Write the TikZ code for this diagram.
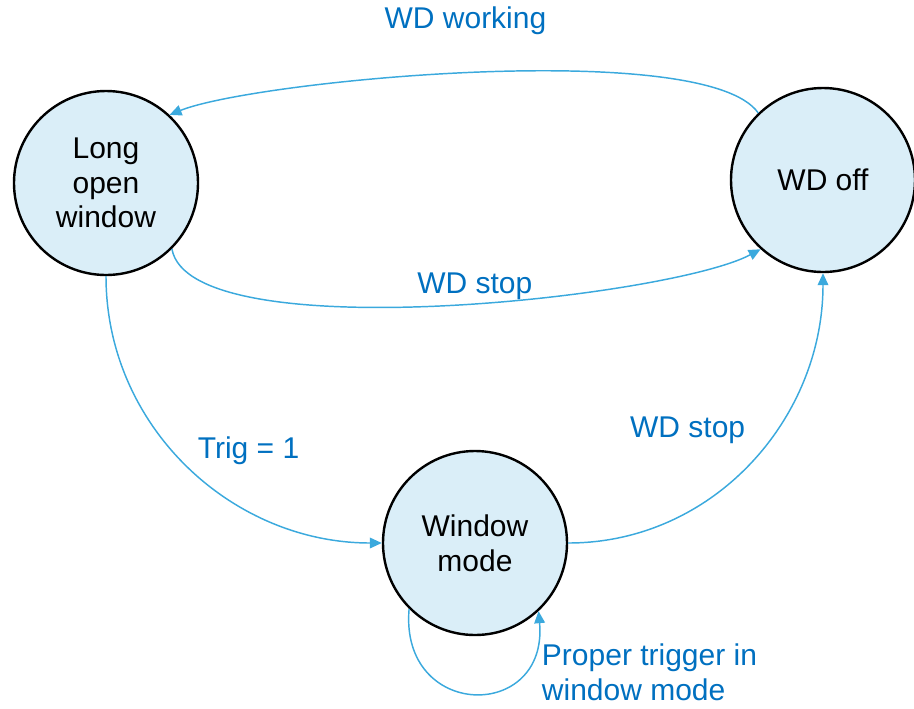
\documentclass[tikz,border=0pt]{standalone}
\usepackage{fontspec}
\setmainfont{Liberation Sans}
\usetikzlibrary{automata, positioning, arrows.meta}
\definecolor{statefill}{HTML}{DAEEF8}
\definecolor{edgeblue}{HTML}{3BA9DD}
\definecolor{labelblue}{HTML}{0070C0}

\begin{document}
\begin{tikzpicture}[
    x=0.75pt, y=0.75pt,
    every state/.style={line width=1.8pt, minimum size=138pt, inner sep=0pt, fill=statefill, draw=black, align=center, font=\fontsize{22.5}{26}\selectfont},
    every edge/.append style={line width=1.1pt, draw=edgeblue, >={Triangle[length=9pt, width=8pt]}},
    lbl/.style={text=labelblue, inner sep=2pt, font=\fontsize{22.5}{26}\selectfont}
]
   \useasboundingbox (0,0) rectangle (914,-708);

   % States
   \node[state] (low)  at (106,-183) {Long\\open\\window};
   \node[state] (woff) at (823,-180) {WD off};
   \node[state] (wm)   at (475,-543) {Window\\mode};

   % Transitions
   \path[->]
   (woff.134) edge[out=125, in=22, looseness=0.4] node[lbl, above=26pt, xshift=-8pt] {WD working} (low.47)

   (low.-45)  edge[out=-80, in=-152, looseness=0.45] node[lbl, above=2pt, xshift=27pt] {WD stop} (woff.-132)

   (low.south) edge[out=-90, in=180] node[lbl, pos=0.45, right=16pt] {Trig = 1} (wm.west)

   (wm.east)  edge[out=0, in=-90] node[lbl, pos=0.55, above left, xshift=-11pt] {WD stop} (woff.south)

   (wm.-135)  edge[out=-95, in=-85, looseness=2.2]
              node[lbl, pos=1, anchor=north west, align=left, yshift=-22pt] {Proper trigger in\\window mode} (wm.-47);

\end{tikzpicture}
\end{document}
